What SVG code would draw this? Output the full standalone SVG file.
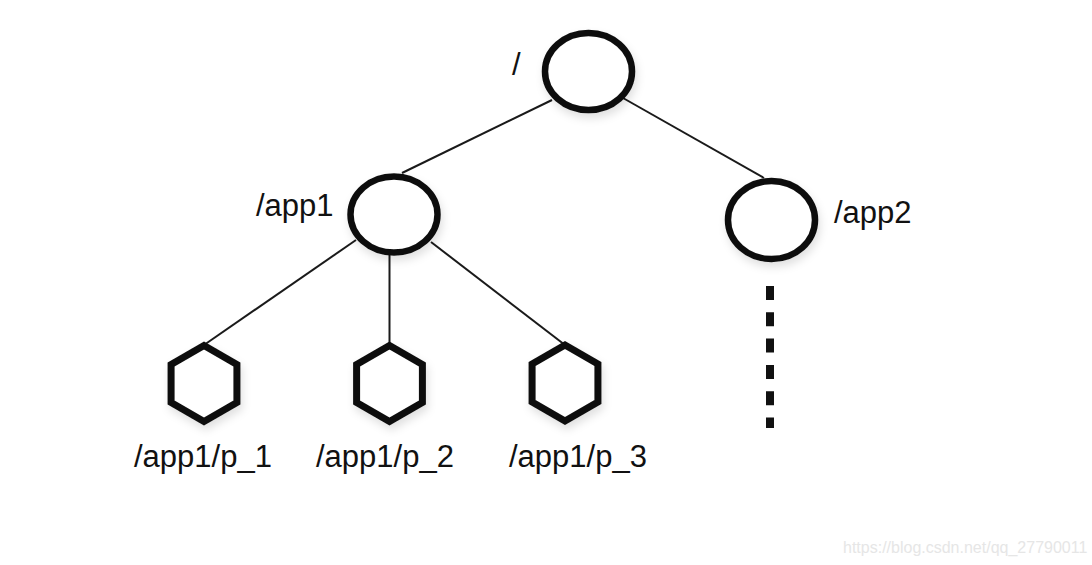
<svg xmlns="http://www.w3.org/2000/svg" width="1092" height="565" viewBox="0 0 1092 565">
<style>
.node{fill:#fff;stroke:#111;stroke-width:6.5;filter:url(#sh)}
.hex{fill:#fff;stroke:#111;stroke-width:7;stroke-linejoin:miter;filter:url(#sh)}
.edge{stroke:#1a1a1a;stroke-width:2;fill:none}
.lbl{font-family:"Liberation Sans",Arial,sans-serif;font-size:31px;fill:#111}
.wm{font-family:"Liberation Sans",Arial,sans-serif;font-size:16px;fill:#e6e6e6}
</style>
<defs>
<filter id="sh" x="-30%" y="-30%" width="160%" height="170%">
<feDropShadow dx="2" dy="5" stdDeviation="4" flood-color="#000" flood-opacity="0.12"/>
</filter>
<polygon id="hx" points="0,-38 32.9,-19 32.9,19 0,38 -32.9,19 -32.9,-19"/>
</defs>
<rect width="1092" height="565" fill="#fff"/>
<g id="connectors">
<line class="edge" x1="552" y1="100" x2="402" y2="173"/>
<line class="edge" x1="623" y1="98" x2="764" y2="178"/>
<line class="edge" x1="356" y1="240" x2="204" y2="345"/>
<line class="edge" x1="389.5" y1="252" x2="389.5" y2="345"/>
<line class="edge" x1="431" y1="242" x2="565" y2="345"/>
<line x1="770" y1="286" x2="770" y2="428" stroke="#111" stroke-width="8" stroke-dasharray="14 12.3"/>
</g>
<g id="root">
<ellipse class="node" cx="588.5" cy="71.5" rx="43.5" ry="38.5"/>
<text class="lbl" x="512" y="75">/</text>
</g>
<g id="app1">
<ellipse class="node" cx="394" cy="214.5" rx="43.5" ry="38"/>
<text class="lbl" x="256" y="216">/app1</text>
</g>
<g id="app2">
<ellipse class="node" cx="771.5" cy="220" rx="43.5" ry="39"/>
<text class="lbl" x="834" y="223">/app2</text>
</g>
<g id="p1">
<use href="#hx" class="hex" x="204" y="383.5"/>
<text class="lbl" x="134" y="467">/app1/p_1</text>
</g>
<g id="p2">
<use href="#hx" class="hex" x="389.5" y="383.5"/>
<text class="lbl" x="316" y="467">/app1/p_2</text>
</g>
<g id="p3">
<use href="#hx" class="hex" x="565" y="383"/>
<text class="lbl" x="509" y="467">/app1/p_3</text>
</g>
<text class="wm" x="843" y="553">https://blog.csdn.net/qq_27790011</text>
</svg>
